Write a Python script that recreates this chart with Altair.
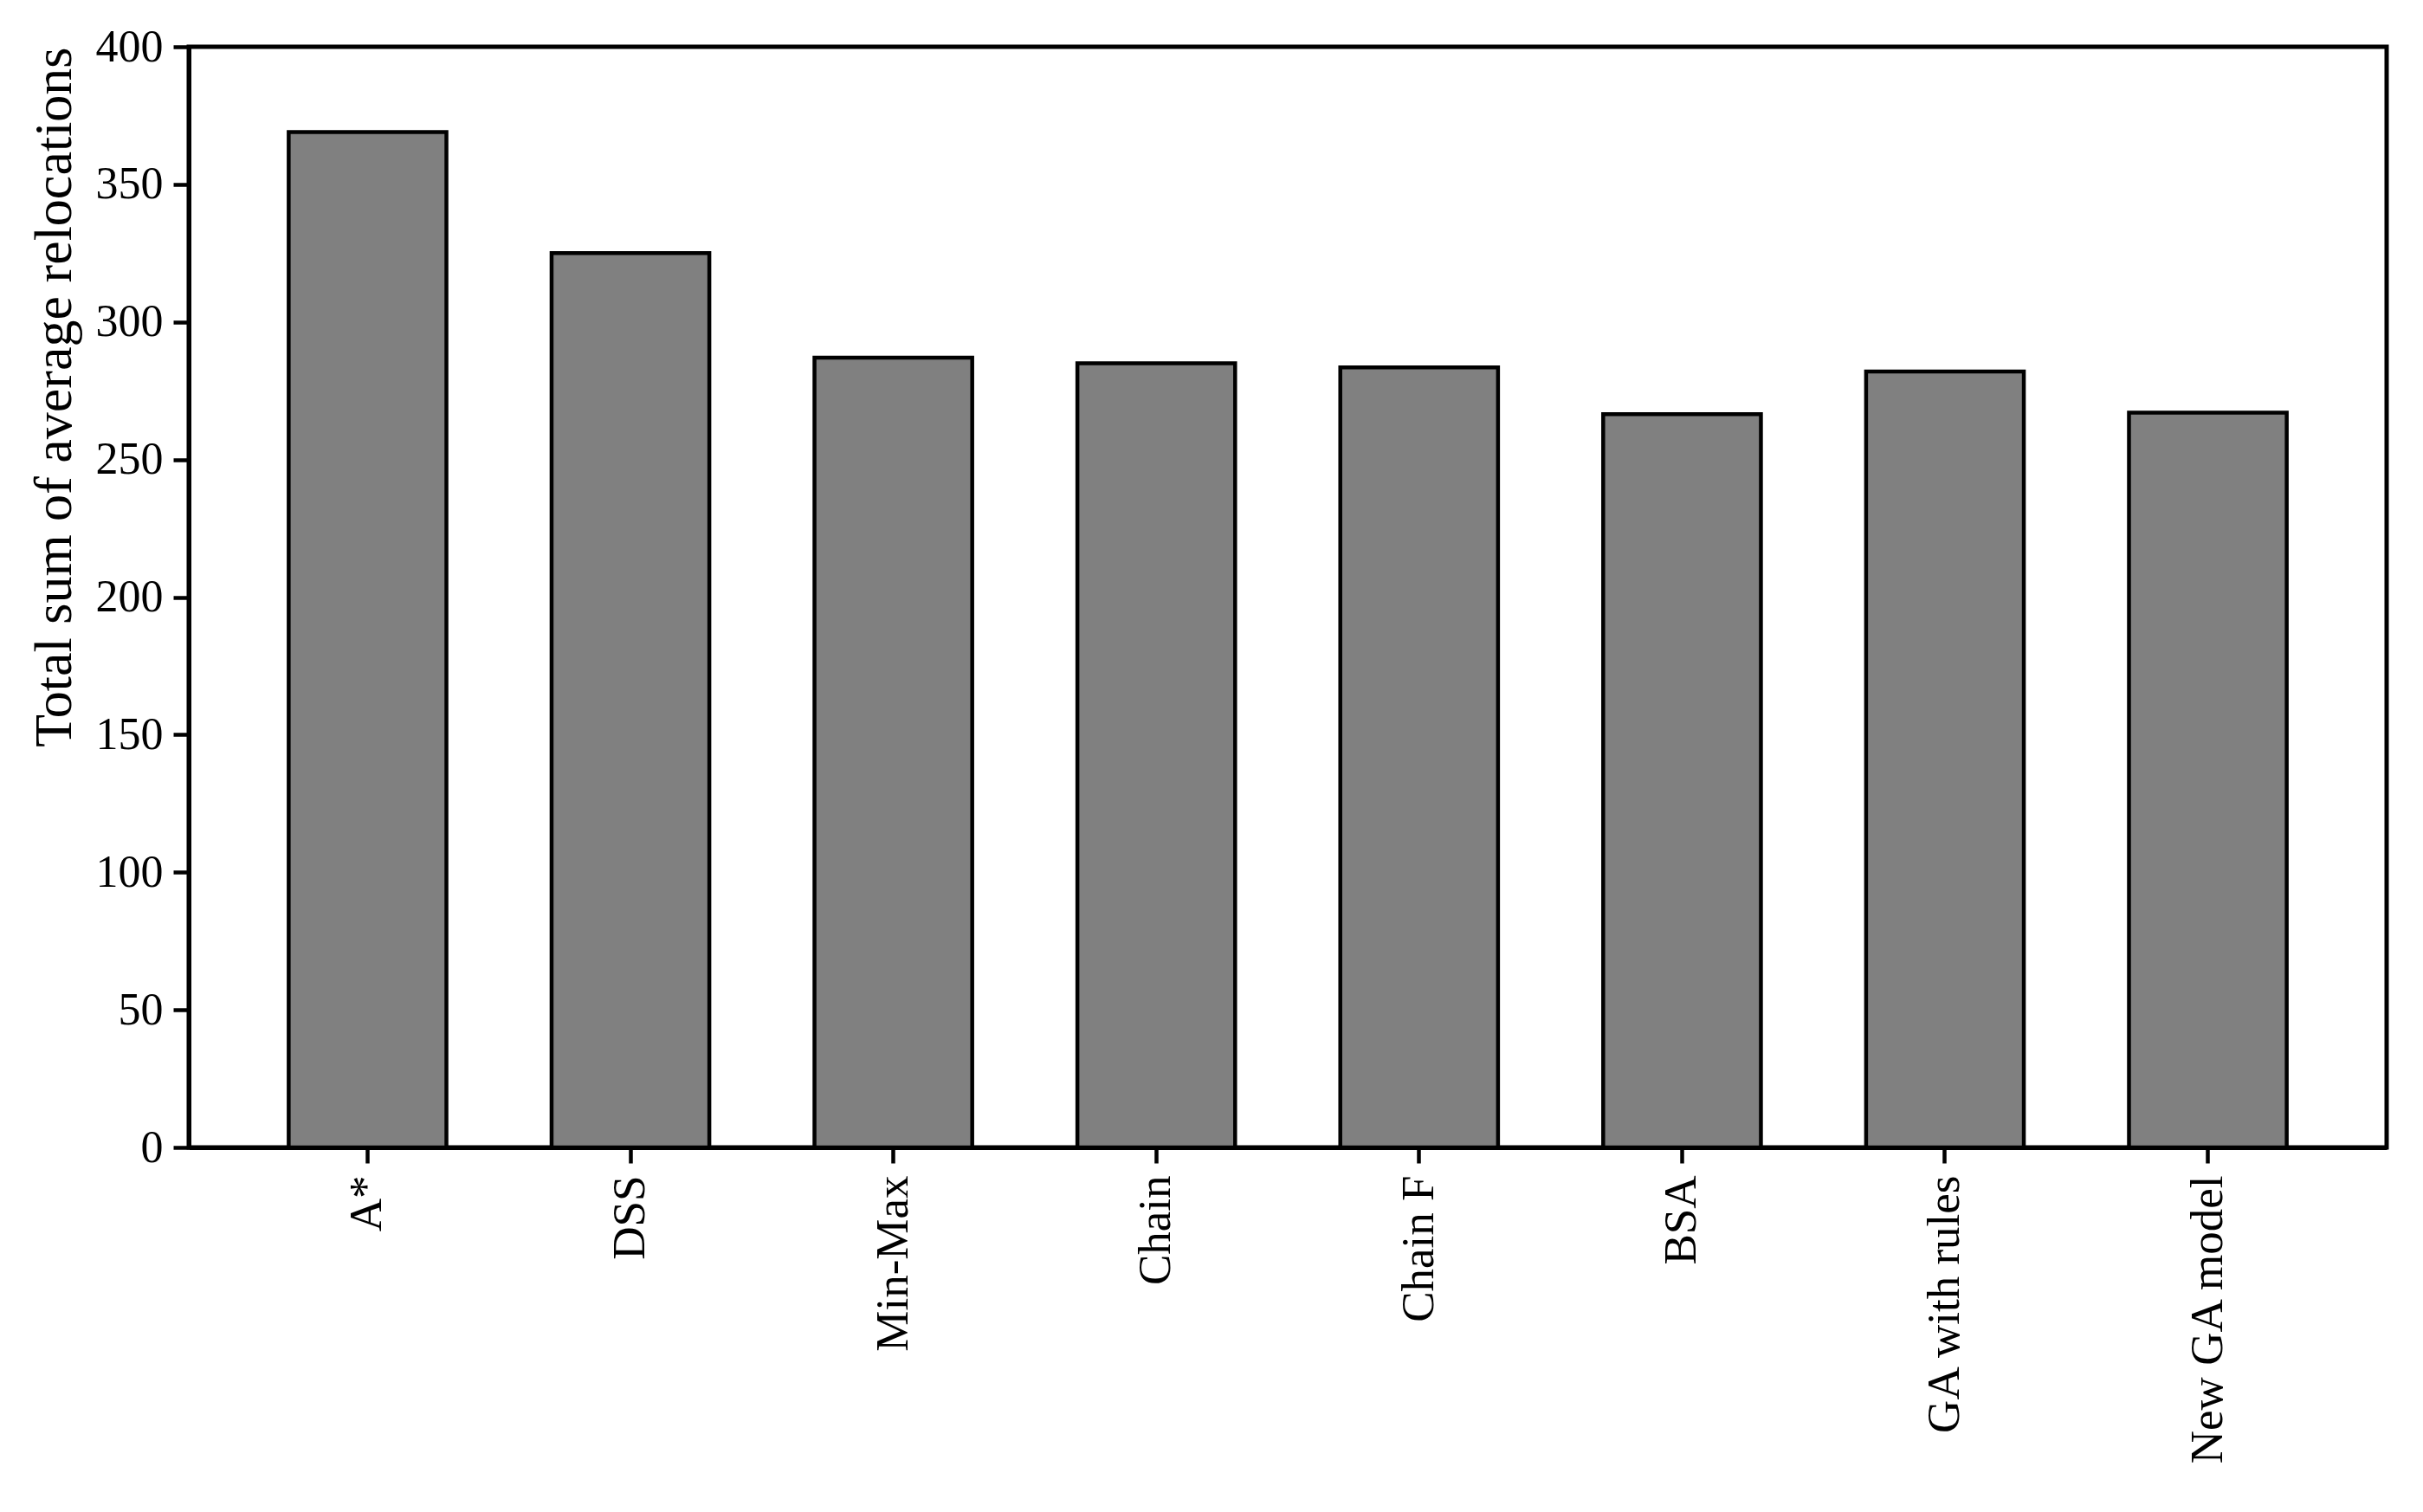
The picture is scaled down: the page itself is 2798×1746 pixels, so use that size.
import altair as alt
import pandas as pd

categories = ["A*", "DSS", "Min-Max", "Chain", "Chain F", "BSA", "GA with rules", "New GA model"]
values = [369, 325, 287, 285, 283.5, 266.5, 282, 267]
y_ticks = [0, 50, 100, 150, 200, 250, 300, 350, 400]

df = pd.DataFrame({"method": categories, "value": values})

FONT = "Liberation Serif"

chart = alt.Chart(df).mark_bar(
    color="#808080", stroke="black", strokeWidth=4.5
).encode(
    x=alt.X("method:N", sort=categories, title=None,
            scale=alt.Scale(paddingInner=0.40, paddingOuter=0.38),
            axis=alt.Axis(labelAngle=-90, labelFont=FONT, labelFontSize=53,
                          labelColor="black", labelPadding=14, labelLimit=0,
                          tickSize=18, tickWidth=4.5, tickColor="black",
                          domainColor="black", domainWidth=5)),
    y=alt.Y("value:Q", title="Total sum of average relocations",
            scale=alt.Scale(domain=[0, 400], nice=False),
            axis=alt.Axis(values=y_ticks, grid=False, labelFont=FONT, labelFontSize=52,
                          labelColor="black", labelPadding=12,
                          tickSize=18, tickWidth=4.5, tickColor="black",
                          domainColor="black", domainWidth=5,
                          titleFont=FONT, titleFontSize=62, titleFontWeight="normal",
                          titleColor="black", titleAnchor="end", titlePadding=16)),
).properties(
    width=2538, height=1271,
    autosize=alt.AutoSizeParams(type="none"),
    padding={"left": 210, "top": 46, "right": 30, "bottom": 400},
).configure_view(
    stroke="black", strokeWidth=5
)

chart.save("out.html", embed_options={"renderer": "svg", "actions": False})
